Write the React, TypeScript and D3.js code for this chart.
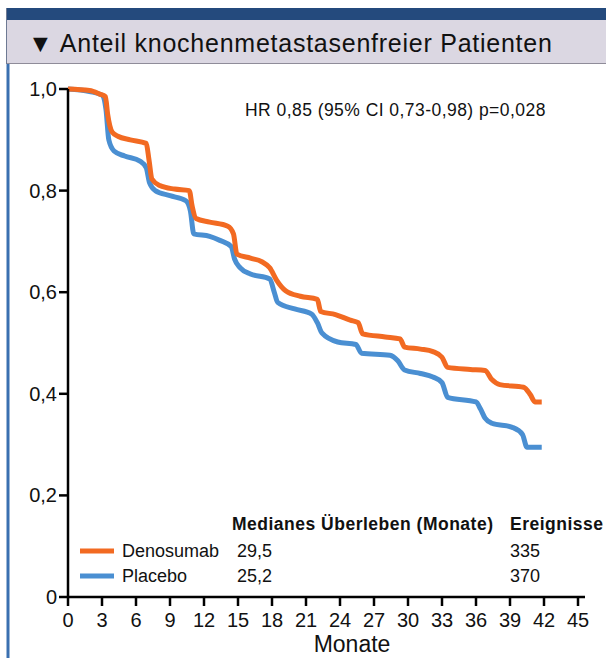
import React from 'react';
import * as d3 from 'd3';

// Kaplan-Meier curves: [month, proportion]
const denosumab: [number, number][] = [
  [0, 1.0], [1.9, 0.997], [2.8, 0.99], [3.3, 0.985], [3.5, 0.95], [3.9, 0.915], [4.4, 0.907],
  [5.5, 0.9], [6.9, 0.893], [7.15, 0.86], [7.4, 0.823], [8.1, 0.81], [9.4, 0.803], [10.7, 0.8],
  [10.95, 0.77], [11.3, 0.745], [12.5, 0.738], [14.1, 0.73], [14.6, 0.715], [14.9, 0.675],
  [16.1, 0.667], [17.1, 0.66], [17.8, 0.648], [18.4, 0.624], [19.2, 0.603], [20.5, 0.592],
  [22.0, 0.586], [22.3, 0.562], [23.6, 0.556], [24.9, 0.545], [25.6, 0.54], [26.0, 0.518],
  [28.0, 0.512], [29.3, 0.508], [29.7, 0.492], [31.1, 0.488], [32.2, 0.483], [33.0, 0.472],
  [33.5, 0.452], [35.5, 0.448], [36.8, 0.446], [37.4, 0.428], [38.1, 0.418], [40.2, 0.413],
  [40.8, 0.398], [41.2, 0.384], [41.8, 0.384],
];

const placebo: [number, number][] = [
  [0, 1.0], [1.9, 0.995], [3.0, 0.988], [3.35, 0.96], [3.6, 0.9], [4.06, 0.878], [5.0, 0.868],
  [6.35, 0.858], [6.9, 0.845], [7.2, 0.815], [7.7, 0.8], [9.0, 0.79], [10.4, 0.78], [10.8, 0.76],
  [11.1, 0.715], [12.5, 0.71], [13.4, 0.702], [14.4, 0.69], [14.7, 0.665], [15.2, 0.648],
  [16.1, 0.636], [17.8, 0.626], [18.2, 0.6], [18.5, 0.58], [20.0, 0.567], [21.5, 0.557],
  [22.0, 0.54], [22.4, 0.52], [23.8, 0.502], [25.4, 0.497], [25.9, 0.48], [28.4, 0.476],
  [29.1, 0.465], [29.7, 0.447], [31.1, 0.44], [32.2, 0.433], [33.0, 0.422], [33.5, 0.393],
  [36.0, 0.384], [36.4, 0.37], [36.8, 0.352], [37.4, 0.342], [39.2, 0.334], [40.1, 0.32],
  [40.5, 0.295], [41.8, 0.295],
];

const xTicks = [0, 3, 6, 9, 12, 15, 18, 21, 24, 27, 30, 33, 36, 39, 42, 45];
const yTicks = [0, 0.2, 0.4, 0.6, 0.8, 1.0];
const yTickLabels = ['0', '0,2', '0,4', '0,6', '0,8', '1,0'];

const seriesNames = ['Denosumab', 'Placebo'];
const medians = ['29,5', '25,2'];
const events = ['335', '370'];
const colors = ['#f26a22', '#4a8fd2'];

const title = '▼ Anteil knochenmetastasenfreier Patienten';
const hrText = 'HR 0,85 (95% CI 0,73-0,98) p=0,028';

const font = 'Arial, "Liberation Sans", sans-serif';

export default function App() {
  const width = 606;
  const height = 658;

  const x = d3.scaleLinear().domain([0, 45]).range([68, 578]);
  const y = d3.scaleLinear().domain([0, 1]).range([597, 89]);

  const line = d3.line<[number, number]>()
    .x(d => x(d[0]))
    .y(d => y(d[1]))
    .curve(d3.curveMonotoneX);

  const series = [denosumab, placebo];

  return (
    <svg width={width} height={height} style={{ position: 'absolute', left: 0, top: 0 }} fontFamily={font}>
      <rect width={width} height={height} fill="#fff" />
      {/* frame */}
      <rect x={6} y={8} width={width - 6} height={12} fill="#244a7d" />
      <rect x={6} y={20} width={width - 6} height={43} fill="#dbd7e2" />
      <line x1={6} x2={width} y1={63.5} y2={63.5} stroke="#8f8c99" strokeWidth={1} />
      <line x1={8} x2={8} y1={64} y2={height} stroke="#3a70b0" strokeWidth={3} />
      <line x1={6.5} x2={6.5} y1={8} y2={64} stroke="#6e7a93" strokeWidth={1} />
      <text x={28} y={52} fontSize={25} letterSpacing={0.75} fill="#111">{title}</text>

      {/* curves, placebo first so denosumab sits on top */}
      {[1, 0].map(i => (
        <path key={i} d={line(series[i]) ?? ''} fill="none" stroke={colors[i]} strokeWidth={5}
          strokeLinejoin="round" strokeLinecap="butt" />
      ))}

      {/* y axis */}
      <line x1={x(0)} x2={x(0)} y1={y(1)} y2={y(0)} stroke="#000" strokeWidth={2.5} />
      {yTicks.map((t, i) => (
        <g key={t}>
          <line x1={x(0) - 9} x2={x(0)} y1={y(t)} y2={y(t)} stroke="#000" strokeWidth={2.5} />
          <text x={x(0) - 11} y={y(t) + 7} fontSize={20} textAnchor="end" fill="#111">{yTickLabels[i]}</text>
        </g>
      ))}

      {/* x axis */}
      <line x1={x(0) - 1} x2={585} y1={y(0)} y2={y(0)} stroke="#000" strokeWidth={2.5} />
      {xTicks.map(t => (
        <g key={t}>
          <line x1={x(t)} x2={x(t)} y1={y(0)} y2={y(0) + 9} stroke="#000" strokeWidth={2.5} />
          <text x={x(t)} y={627} fontSize={20} textAnchor="middle" fill="#111">{t}</text>
        </g>
      ))}
      <text x={352} y={652} fontSize={23} textAnchor="middle" fill="#111">Monate</text>

      {/* hazard ratio */}
      <text x={245} y={116} fontSize={17.5} letterSpacing={0.45} fill="#111">{hrText}</text>

      {/* legend table */}
      <text x={232} y={530} fontSize={17.5} letterSpacing={0.5} fontWeight="bold" fill="#111">Medianes Überleben (Monate)</text>
      <text x={510} y={530} fontSize={17.5} letterSpacing={0.5} fontWeight="bold" fill="#111">Ereignisse</text>
      {seriesNames.map((n, i) => (
        <g key={n}>
          <line x1={80} x2={114} y1={551 + i * 25} y2={551 + i * 25} stroke={colors[i]} strokeWidth={5} />
          <text x={122} y={557 + i * 25} fontSize={18} fill="#111">{n}</text>
          <text x={237} y={557 + i * 25} fontSize={18} fill="#111">{medians[i]}</text>
          <text x={510} y={557 + i * 25} fontSize={18} fill="#111">{events[i]}</text>
        </g>
      ))}
    </svg>
  );
}
